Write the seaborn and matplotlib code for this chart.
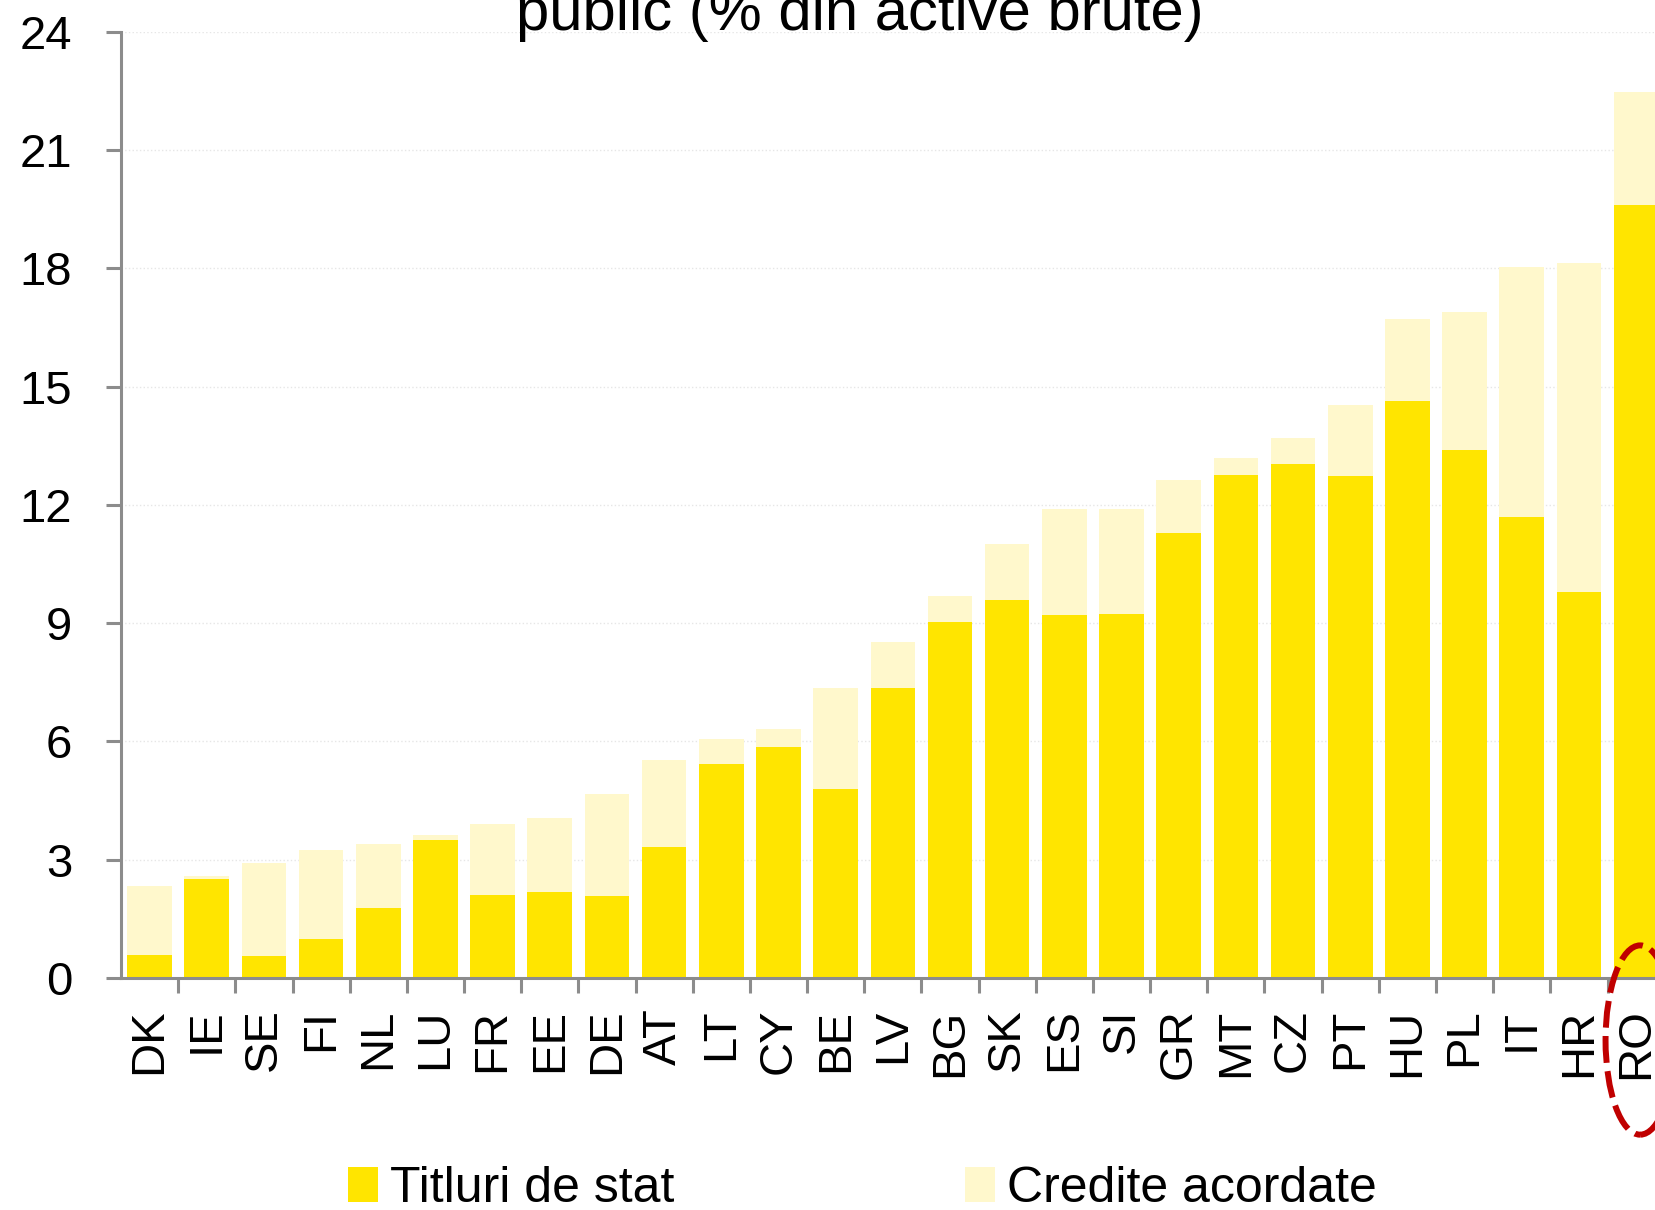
import numpy as np
import pandas as pd
import matplotlib
matplotlib.use("Agg")
import matplotlib.pyplot as plt
import matplotlib.transforms as mtransforms
from matplotlib.patches import Ellipse
import seaborn as sns

countries = ["DK", "IE", "SE", "FI", "NL", "LU", "FR", "EE", "DE", "AT", "LT", "CY", "BE",
             "LV", "BG", "SK", "ES", "SI", "GR", "MT", "CZ", "PT", "HU", "PL", "IT", "HR", "RO"]
titluri = [0.59, 2.51, 0.56, 0.99, 1.77, 3.50, 2.11, 2.17, 2.09, 3.32, 5.43, 5.86, 4.79,
           7.36, 9.04, 9.60, 9.20, 9.23, 11.29, 12.76, 13.03, 12.74, 14.64, 13.40, 11.69, 9.79, 19.61]
total = [2.33, 2.60, 2.92, 3.24, 3.40, 3.64, 3.91, 4.07, 4.68, 5.54, 6.05, 6.31, 7.36,
         8.51, 9.69, 11.00, 11.90, 11.90, 12.63, 13.19, 13.70, 14.53, 16.72, 16.88, 18.03, 18.14, 22.47]
title_line = "public (% din active brute)"
label_titluri = "Titluri de stat"
label_credite = "Credite acordate"

col_titluri = "#FFE500"
col_credite = "#FFF8CC"
gray = "#8C8C8C"

df = pd.DataFrame({"tara": countries, "titluri": titluri, "total": total})

sns.set_style("white")
plt.rcParams["font.family"] = ["Liberation Sans", "DejaVu Sans"]
plt.rcParams["text.color"] = "black"
plt.rcParams["xtick.color"] = "black"
plt.rcParams["ytick.color"] = "black"

fig = plt.figure(figsize=(16.55, 12.10), dpi=100)
ax = fig.add_axes([0.0731, 0.1917, 0.9269, 0.7821])

# stacked: total (light) behind, titluri (yellow) in front
sns.barplot(data=df, x="tara", y="total", order=countries, color=col_credite,
            width=0.78, saturation=1, ax=ax, label=label_credite, edgecolor="none")
sns.barplot(data=df, x="tara", y="titluri", order=countries, color=col_titluri,
            width=0.78, saturation=1, ax=ax, label=label_titluri, edgecolor="none")
handles, labels = ax.get_legend_handles_labels()
if ax.get_legend() is not None:
    ax.get_legend().remove()

ax.set_xlim(-0.5, 26.33)
ax.set_ylim(0, 24)
ax.set_yticks(np.arange(0, 25, 3))
ax.set_xlabel("")
ax.set_ylabel("")

ax.yaxis.grid(True, color="#E6E6E6", linestyle=":", linewidth=1)
ax.set_axisbelow(True)

for s in ["top", "right"]:
    ax.spines[s].set_visible(False)
for s in ["left", "bottom"]:
    ax.spines[s].set_color(gray)
    ax.spines[s].set_linewidth(2.2)

ax.tick_params(axis="y", length=11, width=2.2, color=gray, labelcolor="black",
               pad=24, labelsize=34, left=True)
ax.set_xticks(range(len(countries)))
ax.set_xticklabels(countries, rotation=90)
ax.set_xticks(np.arange(0.5, len(countries) - 1, 1), minor=True)
ax.tick_params(axis="x", which="major", length=0, pad=22, labelsize=34, labelcolor="black")
ax.tick_params(axis="x", which="minor", length=11, width=2.2, color=gray, bottom=True)

# red dashed ellipse around the RO label
ro = countries.index("RO")
trans = mtransforms.blended_transform_factory(ax.transData, ax.transAxes)
ell = Ellipse((ro + 0.07, -0.0655), width=1.21, height=0.2, transform=trans,
              fill=False, edgecolor="#C00000", linestyle=(0, (4.5, 1.4)), linewidth=4.3,
              clip_on=False, zorder=10)
ax.add_patch(ell)

fig.text(0.5197, 0.975, title_line, ha="center", va="baseline", fontsize=43, color="black")

order = [labels.index(label_titluri), labels.index(label_credite)]
fig.legend([handles[i] for i in order], [labels[i] for i in order],
           loc="center", bbox_to_anchor=(0.521, 0.017), ncol=2, frameon=False,
           fontsize=36, handlelength=0.6, handleheight=0.7, handletextpad=0.25,
           columnspacing=5.8, labelcolor="black")

fig.savefig("out.png", dpi=100)
